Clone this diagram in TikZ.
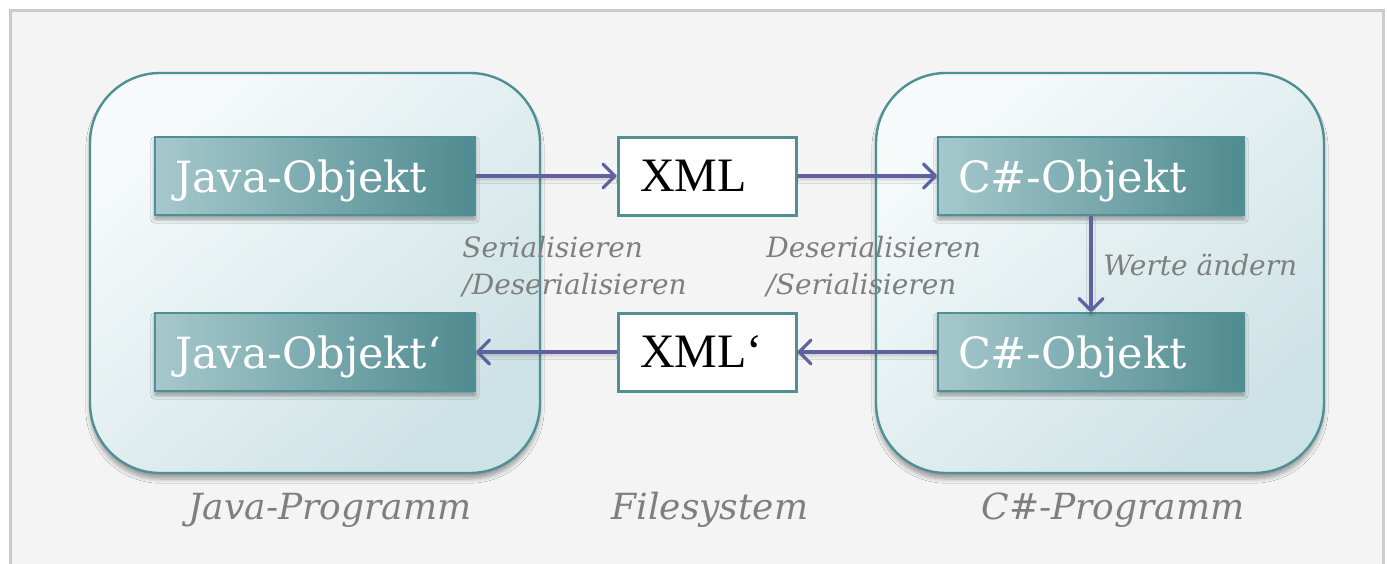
\documentclass[tikz,border=0pt]{standalone}
\usepackage{fontspec}
\setmainfont{DejaVu Serif}
\newfontfamily\xmlfont{Liberation Serif}
\usetikzlibrary{arrows.meta,shadows.blur,backgrounds}
\definecolor{framegray}{HTML}{CBCBCB}
\definecolor{panelbg}{HTML}{F4F4F4}
\definecolor{teal}{HTML}{4E9096}
\definecolor{tealdark}{HTML}{4F8B90}
\definecolor{teallight}{HTML}{A6C8CC}
\definecolor{boxlight}{HTML}{F6FAFB}
\definecolor{boxdark}{HTML}{CDE2E5}
\definecolor{flow}{HTML}{6062A0}
\definecolor{note}{HTML}{7F7F7F}
\tikzset{
  program/.style={draw=teal, line width=1.2pt, rounded corners=35pt,
    top color=boxlight, bottom color=boxdark, shading angle=40,
    minimum width=225pt, minimum height=200pt,
    blur shadow={shadow xshift=0pt, shadow yshift=-3pt, shadow blur steps=6, shadow opacity=35}},
  objbox/.style={draw=teal, line width=0.9pt, left color=teallight, right color=tealdark,
    text=white, font=\fontsize{21.5}{24}\selectfont, align=left,
    text width=#1, inner xsep=10pt, minimum height=39pt,
    text height=18pt, text depth=2pt,
    blur shadow={shadow xshift=0pt, shadow yshift=-2pt, shadow blur steps=4, shadow opacity=40}},
  xmlbox/.style={draw=teal, line width=1.5pt, fill=white, text=black,
    font=\xmlfont\fontsize{24}{26}\selectfont, align=left,
    text width=67pt, inner xsep=11pt, minimum height=39pt},
  flowarrow/.style={draw=flow, line width=1.6pt,
    -{Straight Barb[length=6pt, width=12pt, line width=1.6pt, round]},
    blur shadow={shadow xshift=0pt, shadow yshift=-1.5pt, shadow blur steps=3, shadow opacity=25}},
  notetext/.style={text=note, font=\itshape\fontsize{14}{18.5}\selectfont, align=left, inner sep=0pt},
  caption/.style={text=note, font=\itshape\fontsize{18}{20}\selectfont, inner sep=0pt},
}
\begin{document}
\begin{tikzpicture}[x=0.5pt, y=-0.5pt]
  \useasboundingbox (0,0) rectangle (1387,563);
  \fill[white] (0,0) rectangle (1387,563);
  % outer panel
  \begin{scope}
    \clip (0,0) rectangle (1387,563);
    \draw[draw=framegray, fill=panelbg, line width=1.5pt] (10,10) rectangle (1383,620);
  \end{scope}

  % program containers
  \node[program] (java) at (315,273) {};
  \node[program, minimum width=224pt] (csharp) at (1100,273) {};

  % objects
  \node[objbox=140pt] (jo1) at (315,176) {Java-Objekt};
  \node[objbox=140pt] (jo2) at (315,352) {Java-Objekt‘};
  \node[objbox=133pt] (co1) at (1091,176) {C\#-Objekt};
  \node[objbox=133pt] (co2) at (1091,352) {C\#-Objekt};

  % files
  \node[xmlbox] (xml1) at (707,176) {XML};
  \node[xmlbox] (xml2) at (707,352) {XML‘};

  % data flow
  \draw[flowarrow] (jo1.east) -- (xml1.west);
  \draw[flowarrow] (xml1.east) -- (co1.west);
  \draw[flowarrow] (co1.south) -- (co2.north);
  \draw[flowarrow] (co2.west) -- (xml2.east);
  \draw[flowarrow] (xml2.west) -- (jo2.east);

  % step labels
  \node[notetext, anchor=north west] (ser) at (462,236) {Serialisieren\\/Deserialisieren};
  \node[notetext, anchor=north west] (deser) at (766,236) {Deserialisieren\\/Serialisieren};
  \node[notetext, anchor=west] (change) at (1103,265) {Werte ändern};

  % captions
  \node[caption] (capjava) at (330,510) {Java-Programm};
  \node[caption] (capfs) at (710,510) {Filesystem};
  \node[caption] (capcs) at (1113,510) {C\#-Programm};
\end{tikzpicture}
\end{document}
